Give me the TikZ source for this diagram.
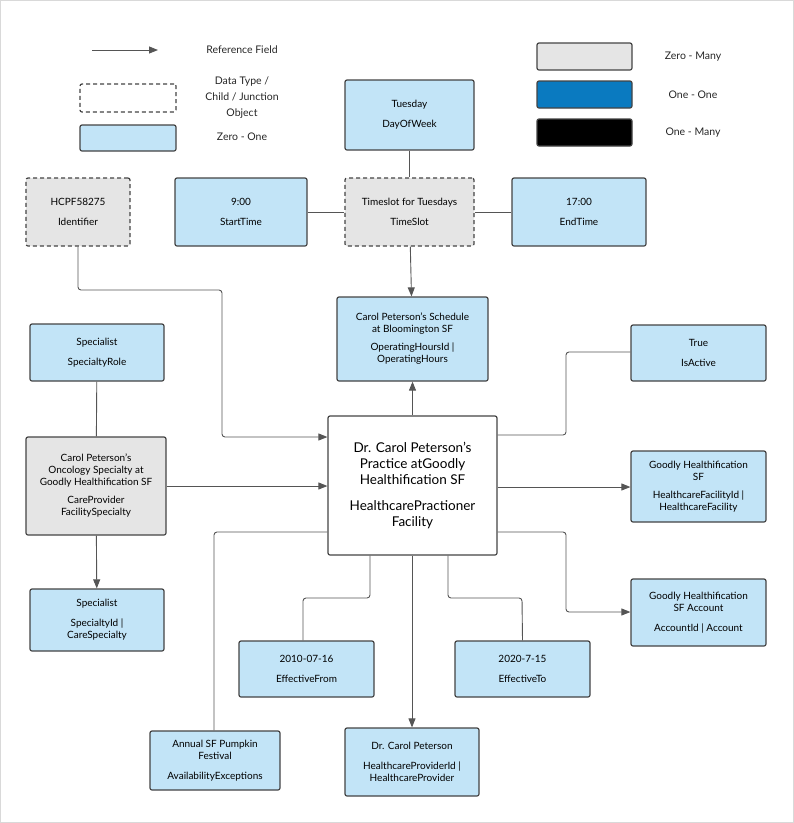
\documentclass[tikz,border=0pt]{standalone}
\usepackage{fontspec}
\setmainfont{Lato}
\usetikzlibrary{arrows.meta}
\definecolor{zeroone}{HTML}{C2E4F7}
\definecolor{zeromany}{HTML}{E5E5E5}
\definecolor{oneone}{HTML}{0A7AC0}
\definecolor{edge}{HTML}{444444}
\definecolor{wire}{HTML}{555555}
\tikzset{every picture/.style={line width=0.75pt}}
\tikzset{
  box/.style={draw=edge, line width=1.2pt, rounded corners=2pt, align=center, inner sep=2pt, font=\fontsize{10}{12}\selectfont},
  zo/.style={box, fill=zeroone},
  zm/.style={box, fill=zeromany},
  dt/.style={box, fill=zeromany, dashed, dash pattern=on 4pt off 3pt},
  lbl/.style={align=center, font=\fontsize{10.5}{15}\selectfont, text=black!85},
  link/.style={draw=wire, line width=0.9pt, rounded corners=3pt},
  ref/.style={link, -{Triangle[length=9pt,width=7pt]}},
}
\begin{document}
\begin{tikzpicture}[x=1pt,y=-1pt]
\useasboundingbox (0,0) rectangle (794,823);
\draw[black!15, line width=1.5pt] (0,0) rectangle (794,823);
% legend
\coordinate (lga) at (92,50);
\coordinate (lgb) at (158,50);
\draw[ref] (lga) -- (lgb);
\node[lbl] (lgref) at (242,50) {Reference Field};
\node[dt, fill=white, minimum width=96pt, minimum height=28pt] (lgdt) at (128,98) {};
\node[lbl, font=\fontsize{10.5}{16}\selectfont] (lgdtt) at (242,98) {Data Type /\\Child / Junction\\Object};
\node[zo, minimum width=96pt, minimum height=26pt] (lgzo) at (128,138) {};
\node[lbl] (lgzot) at (242,137) {Zero - One};
\node[zm, minimum width=95pt, minimum height=27pt] (lgzm) at (584.5,56.5) {};
\node[lbl] (lgzmt) at (693,57) {Zero - Many};
\node[box, fill=oneone, minimum width=95pt, minimum height=27pt] (lgoo) at (584.5,94.5) {};
\node[lbl] (lgoot) at (693,95) {One - One};
\node[box, fill=black, minimum width=95pt, minimum height=27pt] (lgom) at (584.5,132.5) {};
\node[lbl] (lgomt) at (693,133) {One - Many};
% objects
\node[zo, minimum width=129pt, minimum height=70pt] (dow) at (409.5,115) {Tuesday\\[8pt]DayOfWeek};
\node[dt, minimum width=104pt, minimum height=68pt] (ident) at (78,212) {HCPF58275\\[8pt]Identifier};
\node[zo, minimum width=132pt, minimum height=68pt] (start) at (241,212) {9:00\\[8pt]StartTime};
\node[dt, minimum width=129pt, minimum height=68pt] (slot) at (409.5,212) {Timeslot for Tuesdays\\[8pt]TimeSlot};
\node[zo, minimum width=134pt, minimum height=68pt] (endt) at (579,212) {17:00\\[8pt]EndTime};
\node[zo, minimum width=151pt, minimum height=84pt] (hours) at (412.5,339) {Carol Peterson's Schedule\\at Bloomington SF\\[6pt]OperatingHoursId |\\OperatingHours};
\node[zo, minimum width=134pt, minimum height=57pt] (role) at (97,352.5) {Specialist\\[8pt]SpecialtyRole};
\node[zo, minimum width=135pt, minimum height=56pt] (active) at (698.5,353) {True\\[8pt]IsActive};
\node[box, fill=white, minimum width=169pt, minimum height=139pt, font=\fontsize{13.5}{16}\selectfont] (main) at (412.5,485.5) {Dr. Carol Peterson's\\Practice atGoodly\\Healthification SF\\[10pt]HealthcarePractioner\\Facility};
\node[zm, minimum width=140pt, minimum height=98pt] (spec) at (96,486) {Carol Peterson's\\Oncology Specialty at\\Goodly Healthification SF\\[6pt]CareProvider\\FacilitySpecialty};
\node[zo, minimum width=135pt, minimum height=71pt] (facility) at (698.5,486.5) {Goodly Healthification\\SF\\[6pt]HealthcareFacilityId |\\HealthcareFacility};
\node[zo, minimum width=134pt, minimum height=62pt] (care) at (97,620) {Specialist\\[8pt]SpecialtyId |\\CareSpecialty};
\node[zo, minimum width=135pt, minimum height=67pt] (account) at (698.5,612.5) {Goodly Healthification\\SF Account\\[8pt]AccountId | Account};
\node[zo, minimum width=135pt, minimum height=56pt] (from) at (306.5,669) {2010-07-16\\[8pt]EffectiveFrom};
\node[zo, minimum width=135pt, minimum height=56pt] (to) at (522.5,669) {2020-7-15\\[8pt]EffectiveTo};
\node[zo, minimum width=130pt, minimum height=59pt] (except) at (215,760.5) {Annual SF Pumpkin\\Festival\\[8pt]AvailabilityExceptions};
\node[zo, minimum width=134pt, minimum height=68pt] (provider) at (412,762) {Dr. Carol Peterson\\[8pt]HealthcareProviderId |\\HealthcareProvider};
% connectors
\draw[link] (dow) -- (slot);
\draw[link] (start) -- (slot);
\draw[link] (slot) -- (endt);
\draw[ref] (slot) -- (hours);
\draw[ref] (main) -- (hours);
\draw[ref] (ident.south) -- (78,290) -- (222,290) -- (222,437) -- (main.west |- 0,437);
\draw[link] (main.east |- 0,435) -- (566,435) -- (566,352) -- (active.west |- 0,352);
\draw[link] (role) -- (spec);
\draw[ref] (spec) -- (main.west |- spec);
\draw[ref] (spec) -- (care);
\draw[ref] (main.east |- 0,487) -- (facility.west |- 0,487);
\draw[ref] (main.east |- 0,532) -- (566,532) -- (566,612) -- (account.west |- 0,612);
\draw[link] (main.south -| 370,0) -- (370,598) -- (303,598) -- (from.north -| 303,0);
\draw[link] (main.south -| 448,0) -- (448,598) -- (522,598) -- (to.north);
\draw[ref] (main.south -| 412,0) -- (provider.north -| 412,0);
\draw[link] (main.west |- 0,532) -- (214,532) -- (except.north -| 214,0);
\end{tikzpicture}
\end{document}
